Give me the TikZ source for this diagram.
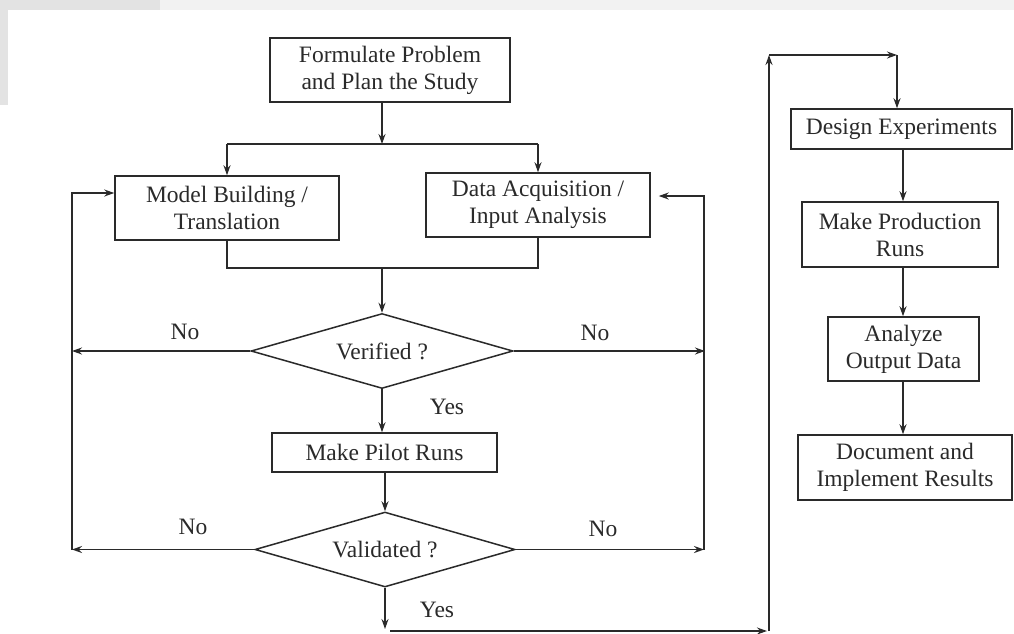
\documentclass[tikz,border=0pt]{standalone}
\usepackage{fontspec}
\setmainfont{Liberation Serif}
\usetikzlibrary{shapes.geometric,arrows.meta}
\definecolor{ink}{HTML}{2A2A2A}
\tikzset{
  every node/.style={font=\fontsize{23.5}{27}\selectfont, text=ink},
  procbox/.style={draw=ink, line width=1.5pt, rectangle, inner sep=0pt, align=center},
  decision/.style={draw=ink, line width=1.5pt, diamond, aspect=3.5, inner sep=0pt, align=center},
  conn/.style={draw=ink, line width=1.4pt},
  arr/.style={conn, -{Stealth[length=10pt,width=7pt]}},
  lbl/.style={inner sep=0pt}
}
\begin{document}
\begin{tikzpicture}[x=1pt,y=-1pt]
\useasboundingbox (0,0) rectangle (1014,633);
\fill[white] (0,0) rectangle (1014,633);
\fill[gray!10] (0,0) rectangle (1014,10);
\fill[gray!22] (0,0) rectangle (8,105);
\fill[gray!22] (0,0) rectangle (160,10);

% left column
\node[procbox, minimum width=240pt, minimum height=64pt] (form) at (390,70) {Formulate Problem\\and Plan the Study};
\node[procbox, minimum width=224pt, minimum height=64pt] (model) at (227,208) {Model Building /\\Translation};
\node[procbox, minimum width=224pt, minimum height=64pt] (data) at (538,205) {Data Acquisition /\\Input Analysis};
\node[decision, minimum width=262pt, minimum height=75pt] (ver) at (382,351) {Verified ?};
\node[procbox, minimum width=225pt, minimum height=39pt] (pilot) at (384.5,452.5) {Make Pilot Runs};
\node[decision, minimum width=260pt, minimum height=75pt] (val) at (385,549.5) {Validated ?};

% right column
\node[procbox, minimum width=221pt, minimum height=40pt] (design) at (901.5,129) {Design Experiments};
\node[procbox, minimum width=196pt, minimum height=65pt] (prod) at (900,234.5) {Make Production\\Runs};
\node[procbox, minimum width=151pt, minimum height=64pt] (anal) at (903.5,349) {Analyze\\Output Data};
\node[procbox, minimum width=214pt, minimum height=65pt] (doc) at (905,467.5) {Document and\\Implement Results};

% junction coordinates
\coordinate (split) at (382,144);
\coordinate (merge) at (382,268);
\coordinate (lfb) at (72,193);
\coordinate (rfb) at (704,196);
\coordinate (lverend) at (72,351);
\coordinate (rverend) at (705,351);
\coordinate (lvalend) at (72,549.5);
\coordinate (rvalend) at (704,549.5);
\coordinate (valdown) at (385,629);
\coordinate (bstart) at (390,631);
\coordinate (bcorner) at (769,631);
\coordinate (tcorner) at (769,55);
\coordinate (tend) at (897,55);
\coordinate (rcol) at (903,0);

% top split
\draw[arr] (form.south -| split) -- (split);
\draw[conn] (split -| model.north) -- (split -| data.north);
\draw[arr] (split -| model.north) -- (model.north);
\draw[arr] (split -| data.north) -- (data.north);

% merge
\draw[conn] (model.south) -- (merge -| model.south) -- (merge -| data.south) -- (data.south);
\draw[arr] (merge) -- (ver.north);

% verified
\draw[arr] (ver.west) -- (lverend);
\draw[arr] (ver.east) -- (rverend);
\node[lbl] (no1) at (185,332) {No};
\node[lbl] (no2) at (595,333) {No};
\draw[arr] (ver.south) -- (ver.south |- pilot.north);
\node[lbl] (yes1) at (447,407) {Yes};

% validated
\draw[arr] (pilot.south -| val.north) -- (val.north);
\draw[arr] (val.west) -- (lvalend);
\draw[arr] (val.east) -- (rvalend);
\node[lbl] (no3) at (193,527) {No};
\node[lbl] (no4) at (603,529) {No};
\draw[arr] (val.south) -- (valdown);
\node[lbl] (yes2) at (437,610) {Yes};

% feedback loops
\draw[arr] (lvalend) -- (lfb) -- (lfb -| model.west);
\draw[arr, shorten >=8pt] (rvalend) -- (rfb) -- (rfb -| data.east);

% to the right column
\draw[arr] (bstart) -- ([xshift=-2pt]bcorner);
\draw[arr] (bcorner) -- (tcorner);
\draw[arr] (tcorner) -- (tend);
\draw[arr] (tend) -- (tend |- design.north);

\draw[arr] (design.south -| rcol) -- (prod.north -| rcol);
\draw[arr] (prod.south -| rcol) -- (anal.north -| rcol);
\draw[arr] (anal.south -| rcol) -- (doc.north -| rcol);
\end{tikzpicture}
\end{document}
